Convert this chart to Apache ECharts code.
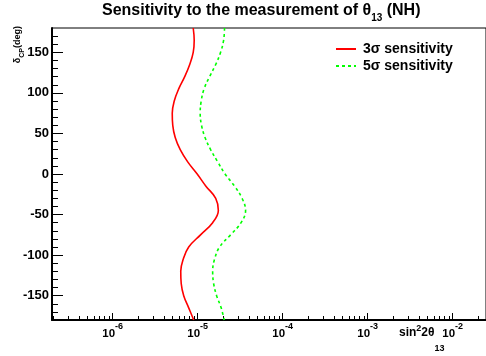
<!DOCTYPE html>
<html>
<head>
<meta charset="utf-8">
<script src="https://cdn.jsdelivr.net/npm/echarts@6/dist/echarts.min.js"></script>
<style>
  html, body { margin: 0; padding: 0; background: #fff; }
  #chart { width: 486px; height: 356px; }
</style>
</head>
<body>
<div id="chart"></div>
<script>
// delta_CP grid (deg) and the sin^2 2theta13 sensitivity
const deltaCP = [180, 165, 150, 135, 120, 105, 90, 75, 60, 45, 30, 15, 0,
  -15, -30, -45, -60, -75, -90, -105, -120, -135, -150, -165, -180];
const sens3sigma = [8.86e-6, 9.10e-6, 8.86e-6, 8.06e-6, 7.04e-6, 5.98e-6, 5.30e-6, 5.02e-6, 5.09e-6,
  5.44e-6, 6.23e-6, 7.63e-6, 9.87e-6, 1.25e-5, 1.63e-5, 1.75e-5, 1.50e-5, 1.08e-5, 7.84e-6,
  6.76e-6, 6.32e-6, 6.40e-6, 6.85e-6, 7.84e-6, 8.98e-6];
const sens5sigma = [2.07e-5, 2.02e-5, 1.86e-5, 1.63e-5, 1.38e-5, 1.19e-5, 1.10e-5, 1.07e-5, 1.11e-5,
  1.22e-5, 1.42e-5, 1.72e-5, 2.10e-5, 2.72e-5, 3.33e-5, 3.66e-5, 3.24e-5, 2.44e-5, 1.81e-5,
  1.58e-5, 1.50e-5, 1.54e-5, 1.67e-5, 1.89e-5, 2.05e-5];

// axis ticks (x in decades)
const xDecades = [-6, -5, -4, -3, -2];
const xMinorFactors = [2, 3, 4, 5, 6, 7, 8, 9];
const yTicks = [-150, -100, -50, 0, 50, 100, 150];
const yMinorStep = 10;

const xMin = -6.714, xMax = -1.608;
const yMin = -180, yMax = 180;

const xMinor = [];
for (let d = -7; d <= -2; d++) {
  xMinorFactors.forEach(f => {
    const v = d + Math.log10(f);
    if (v > xMin && v < xMax) xMinor.push(v);
  });
}
const yMinor = [];
for (let v = yMin + yMinorStep; v < yMax; v += yMinorStep) {
  if (yTicks.indexOf(v) < 0) yMinor.push(v);
}

const font = 'Liberation Sans, Arial, Helvetica, sans-serif';
const chart = echarts.init(document.getElementById('chart'));

const toPoints = vals => deltaCP.map((d, i) => [Math.log10(vals[i]), d]);
const bold = (size, extra) => Object.assign({ fontFamily: font, fontSize: size, fontWeight: 'bold', color: '#000', verticalAlign: 'top' }, extra);

const option = {
  animation: false,
  backgroundColor: '#fff',
  textStyle: { fontFamily: font },
  title: {
    left: 102,
    top: 3,
    padding: 0,
    text: '{a|Sensitivity to the measurement of }{a|θ}{s|13}{a| (NH)}',
    textStyle: {
      rich: {
        a: bold(16),
        s: bold(10, { padding: [10, 0, 0, 0] })
      }
    }
  },
  grid: { left: 52, right: -1, top: 28, bottom: 36, show: true, borderColor: '#000', borderWidth: 1 },
  legend: {
    orient: 'vertical',
    left: 330,
    top: 37,
    itemWidth: 20,
    itemHeight: 14,
    itemGap: 3,
    itemStyle: { opacity: 0 },
    textStyle: { fontFamily: font, fontSize: 14, fontWeight: 'bold', color: '#000', padding: [0, 0, 0, 2] },
    data: ['3σ sensitivity', '5σ sensitivity']
  },
  xAxis: [
    {
      type: 'value', min: xMin, max: xMax,
      axisLine: { show: true, onZero: false, lineStyle: { color: '#000', width: 2 } },
      axisTick: { show: true, inside: true, length: 7, customValues: xDecades, lineStyle: { color: '#000' } },
      axisLabel: {
        customValues: xDecades,
        margin: 2,
        formatter: v => '{b|10}{s|' + v + '}',
        rich: {
          b: bold(11.5, { padding: [6, 0, 0, 0] }),
          s: bold(9, { padding: [0, 0, 0, 0] })
        }
      },
      splitLine: { show: false }
    },
    {
      type: 'value', min: xMin, max: xMax, position: 'bottom',
      axisLine: { show: false, onZero: false },
      axisTick: { show: true, inside: true, length: 4, customValues: xMinor, lineStyle: { color: '#000' } },
      axisLabel: { show: false },
      splitLine: { show: false }
    }
  ],
  yAxis: [
    {
      type: 'value', min: yMin, max: yMax,
      axisLine: { show: true, onZero: false, lineStyle: { color: '#000', width: 2 } },
      axisTick: { show: true, inside: true, length: 11, customValues: yTicks, lineStyle: { color: '#000' } },
      axisLabel: { customValues: yTicks, margin: 3, fontFamily: font, fontSize: 13, fontWeight: 'bold', color: '#000' },
      splitLine: { show: false }
    },
    {
      type: 'value', min: yMin, max: yMax, position: 'left',
      axisLine: { show: false, onZero: false },
      axisTick: { show: true, inside: true, length: 6, customValues: yMinor, lineStyle: { color: '#000' } },
      axisLabel: { show: false },
      splitLine: { show: false }
    }
  ],
  graphic: [
    {
      type: 'text',
      x: 13, y: 26,
      rotation: Math.PI / 2,
      style: {
        text: '{a|δ}{s|CP}{a|(deg)}',
        align: 'right',
        verticalAlign: 'top',
        rich: {
          a: bold(9, { fill: '#000' }),
          s: bold(7, { fill: '#000', padding: [6, 0, 0, 0] })
        }
      }
    },
    {
      type: 'text',
      x: 399, y: 324,
      style: {
        text: '{a|sin}{p|2}{a|2θ}{s|13}',
        rich: {
          a: bold(12, { fill: '#000', padding: [3, 0, 0, 0] }),
          p: bold(9, { fill: '#000' }),
          s: bold(9, { fill: '#000', padding: [20, 0, 0, 0] })
        }
      }
    }
  ],
  series: [
    {
      name: '3σ sensitivity',
      type: 'line',
      smooth: 0.4,
      symbol: 'none',
      data: toPoints(sens3sigma),
      lineStyle: { color: '#ff0000', width: 1.6 },
      itemStyle: { color: '#ff0000' }
    },
    {
      name: '5σ sensitivity',
      type: 'line',
      smooth: 0.4,
      symbol: 'none',
      data: toPoints(sens5sigma),
      lineStyle: { color: '#00ff00', width: 1.6, type: [3, 3] },
      itemStyle: { color: '#00ff00' }
    }
  ]
};
chart.setOption(option);
</script>
</body>
</html>
